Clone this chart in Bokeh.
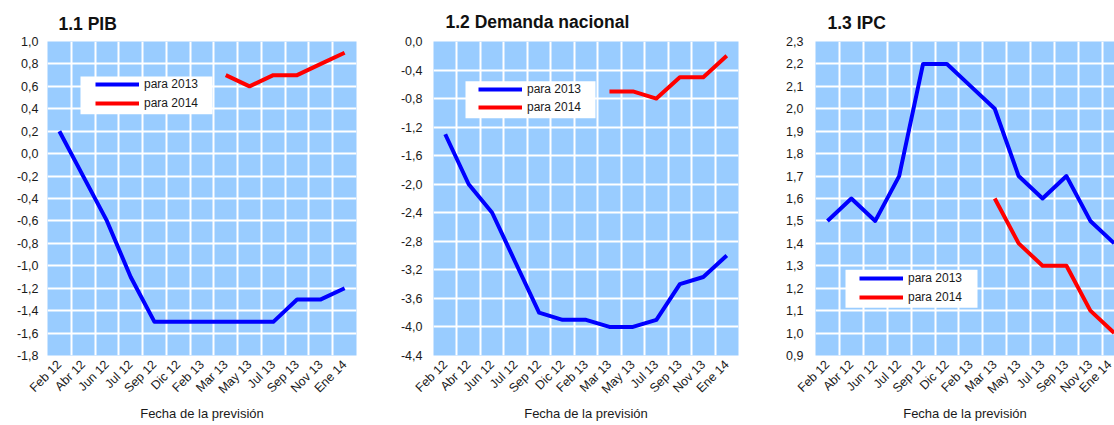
import numpy as np
from math import pi
from bokeh.plotting import figure
from bokeh.layouts import row
from bokeh.models import (FixedTicker, CustomJSTickFormatter, Legend, LegendItem,
                          BoxAnnotation, Range1d)
from bokeh.embed import file_html
from bokeh.resources import INLINE

# ---------------- data ----------------
categories = ["Feb 12", "Abr 12", "Jun 12", "Jul 12", "Sep 12", "Dic 12", "Feb 13",
              "Mar 13", "May 13", "Jul 13", "Sep 13", "Nov 13", "Ene 14"]

pib_2013 = [0.2, -0.2, -0.6, -1.1, -1.5, -1.5, -1.5, -1.5, -1.5, -1.5, -1.3, -1.3, -1.2]
pib_2014 = [None, None, None, None, None, None, None, 0.7, 0.6, 0.7, 0.7, 0.8, 0.9]

dem_2013 = [-1.3, -2.0, -2.4, -3.1, -3.8, -3.9, -3.9, -4.0, -4.0, -3.9, -3.4, -3.3, -3.0]
dem_2014 = [None, None, None, None, None, None, None, -0.7, -0.7, -0.8, -0.5, -0.5, -0.2]

ipc_2013 = [1.5, 1.6, 1.5, 1.7, 2.2, 2.2, 2.1, 2.0, 1.7, 1.6, 1.7, 1.5, 1.4]
ipc_2014 = [None, None, None, None, None, None, None, 1.6, 1.4, 1.3, 1.3, 1.1, 1.0]

pib_yticks = [1.0, 0.8, 0.6, 0.4, 0.2, 0.0, -0.2, -0.4, -0.6, -0.8, -1.0, -1.2, -1.4, -1.6, -1.8]
dem_yticks = [0.0, -0.4, -0.8, -1.2, -1.6, -2.0, -2.4, -2.8, -3.2, -3.6, -4.0, -4.4]
ipc_yticks = [2.3, 2.2, 2.1, 2.0, 1.9, 1.8, 1.7, 1.6, 1.5, 1.4, 1.3, 1.2, 1.1, 1.0, 0.9]

titles = ["1.1 PIB", "1.2 Demanda nacional", "1.3 IPC"]
series_labels = ["para 2013", "para 2014"]
x_title = "Fecha de la previsión"

# ---------------- style ----------------
FONT = "Liberation Sans"
BG = "#99CCFF"
BLUE = "#0000FF"
RED = "#FF0000"
TXT = "#1a1a1a"
FIG_H = 425
TOP = 40
FRAME_H = 315


def arr(v):
    return np.array([np.nan if a is None else a for a in v], dtype=float)


def make_panel(title, s13, s14, yticks, fig_x0, fig_w, border_l, border_r, x_end,
               y_standoff, title_offset, title_standoff, legend_px, box_px):
    frame_w = fig_w - border_l - border_r
    ymin, ymax = min(yticks), max(yticks)
    p = figure(width=fig_w, height=FIG_H, output_backend="svg", toolbar_location=None,
               title=title, x_range=Range1d(-0.5, x_end), y_range=Range1d(ymin, ymax),
               min_border_left=border_l, min_border_right=border_r, min_border_top=TOP,
               min_border_bottom=FIG_H - TOP - FRAME_H)
    p.background_fill_color = BG
    p.border_fill_color = "white"
    p.outline_line_color = None

    p.title.text_font = FONT
    p.title.text_font_size = "17.5px"
    p.title.text_font_style = "bold"
    p.title.text_color = "#111111"
    p.title.offset = title_offset
    p.title.standoff = title_standoff

    xs = np.arange(len(categories))
    # axes
    p.xaxis.ticker = FixedTicker(ticks=list(xs))
    p.xaxis.major_label_overrides = {int(i): c for i, c in zip(xs, categories)}
    p.xaxis.major_label_orientation = pi / 4
    p.xaxis.major_label_standoff = 7
    p.xaxis.axis_label = x_title
    p.xaxis.axis_label_text_font_style = "normal"
    p.xaxis.axis_label_text_font = FONT
    p.xaxis.axis_label_text_font_size = "13px"
    p.xaxis.axis_label_text_color = TXT
    p.xaxis.axis_label_standoff = 2

    p.yaxis.ticker = FixedTicker(ticks=yticks)
    p.yaxis.formatter = CustomJSTickFormatter(
        code="var t = Math.abs(tick) < 1e-9 ? 0 : tick; return t.toFixed(1).replace('.', ',');")
    p.yaxis.major_label_standoff = y_standoff

    for ax in (p.xaxis[0], p.yaxis[0]):
        ax.axis_line_color = None
        ax.major_tick_line_color = None
        ax.minor_tick_line_color = None
        ax.major_tick_out = 0
        ax.major_tick_in = 0
        ax.major_label_text_font = FONT
        ax.major_label_text_font_size = "12.5px"
        ax.major_label_text_color = TXT

    # grid
    p.xgrid.ticker = FixedTicker(ticks=[i - 0.5 for i in range(len(categories) + 1)])
    for g in (p.xgrid[0], p.ygrid[0]):
        g.grid_line_color = "white"
        g.grid_line_width = 2
        g.grid_line_alpha = 1.0

    # pixel layout -> data coords helpers
    fl = fig_x0 + border_l
    ft = TOP
    fb = ft + FRAME_H
    x_per_px = (x_end + 0.5) / frame_w
    y_per_px = (ymax - ymin) / FRAME_H

    def dx(px):
        return -0.5 + (px - fl) * x_per_px

    def dy(py):
        return ymax - (py - ft) * y_per_px

    bl, bt, br, bb = box_px
    p.add_layout(BoxAnnotation(left=dx(bl), right=dx(br), top=dy(bt), bottom=dy(bb),
                               fill_color="white", fill_alpha=1.0, line_color=None))

    r1 = p.line(xs, arr(s13), line_width=4, color=BLUE, line_join="round")
    r2 = p.line(xs, arr(s14), line_width=4, color=RED, line_join="round")

    gx, cy1, cy2 = legend_px
    legend = Legend(items=[LegendItem(label=series_labels[0], renderers=[r1]),
                           LegendItem(label=series_labels[1], renderers=[r2])],
                    location=(gx - fl, fb - (cy2 + 7)),
                    background_fill_alpha=0, border_line_alpha=0,
                    padding=0, margin=0, spacing=int(cy2 - cy1 - 14),
                    glyph_width=44, glyph_height=14, label_height=14,
                    label_standoff=5, label_text_font=FONT,
                    label_text_font_size="12px", label_text_color=TXT)
    p.add_layout(legend, "center")
    return p


p1 = make_panel(titles[0], pib_2013, pib_2014, pib_yticks, 0, 375, 47, 19, 12.5,
                9, 11, 15, (95, 84, 103), (80, 75, 212, 113))
p2 = make_panel(titles[1], dem_2013, dem_2014, dem_yticks, 375, 385, 58, 22, 12.5,
                11, 12, 19, (478, 89, 107), (465, 80, 595, 117))
p3 = make_panel(titles[2], ipc_2013, ipc_2014, ipc_yticks, 760, 354, 55, 0,
                -0.5 + 299 / 23.9, 12, 12, 18, (859, 278, 297), (845, 269, 977, 307))

layout = row(p1, p2, p3)
open("out.html", "w").write(file_html(layout, INLINE))
